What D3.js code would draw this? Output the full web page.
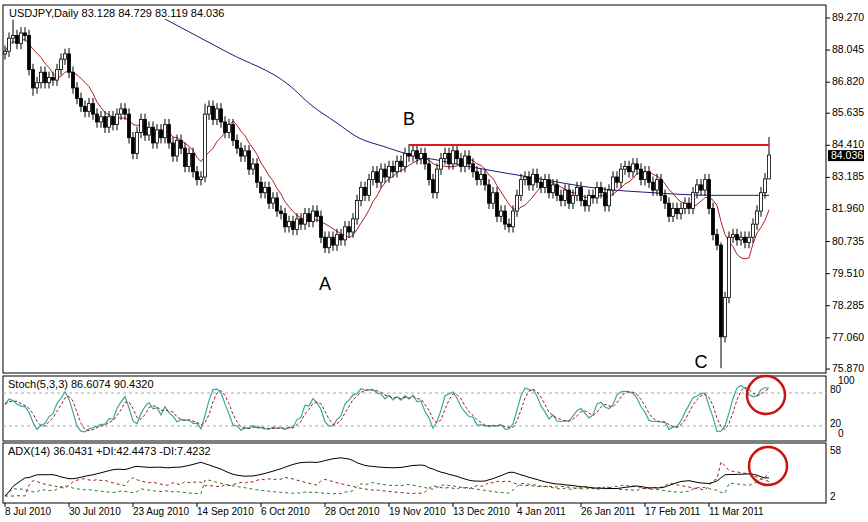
<!DOCTYPE html>
<html><head><meta charset="utf-8">
<script src="https://cdn.jsdelivr.net/npm/d3@7"></script>
<style>body{margin:0;background:#fff}text{font-family:"Liberation Sans",Arial,sans-serif}</style>
</head><body><svg id="c" width="868" height="522"></svg>
<script>
const closes=[88.0,88.5,88.6,88.3,88.7,88.6,87.3,86.6,86.8,87.2,86.8,87.0,86.9,87.3,87.7,87.9,87.2,86.6,86.2,85.9,85.7,86.0,85.6,85.3,85.5,85.1,85.5,85.2,85.6,85.8,
85.6,84.7,84.1,84.9,85.4,84.8,85.1,84.5,85.0,84.7,85.2,84.5,84.0,84.6,84.3,83.6,84.1,83.4,83.1,83.2,85.6,85.9,85.4,85.8,85.3,84.9,85.2,84.6,84.3,84.0,84.2,83.5,83.7,83.0,82.6,82.8,82.2,82.4,81.9,
81.8,81.3,81.5,81.2,81.6,81.4,81.8,81.5,81.9,81.7,80.9,80.5,80.9,80.6,81.0,80.8,81.3,81.1,81.6,82.3,82.8,82.5,83.1,83.4,83.0,83.5,83.2,83.6,83.4,83.8,83.6,84.1,84.0,84.2,83.9,84.1,83.7,83.1,82.6,
83.5,83.9,84.1,83.7,84.2,83.9,83.6,84.0,83.7,83.4,83.1,83.3,82.9,82.2,82.6,81.7,81.9,81.4,81.3,81.9,82.5,83.1,83.2,82.9,83.3,83.0,82.8,83.1,82.6,82.9,82.5,82.3,82.7,82.2,82.5,82.8,82.3,82.1,82.5,
82.4,82.8,82.6,82.1,82.7,83.2,83.0,83.5,83.6,83.4,83.7,83.5,83.1,83.4,83.0,82.7,83.1,82.5,82.2,81.7,82.0,81.8,82.0,82.2,82.0,82.6,82.9,82.7,83.1,82.0,81.0,80.6,77.1,78.6,80.9,81.0,80.8,80.9,80.7,80.9,81.4,81.9,82.6,83.128,84.036];
const firstOpen=87.9;
const defaultWick=0.22;
const highOverrides={2:89.2,15:88.1,50:86.0,101:84.45,113:84.4,179:80.7,191:84.729};
const lowOverrides={7:86.3,50:83.0,80:80.3,178:80.4,179:75.9,191:83.119};
const slowMA=[[40,89.23],[56,87.93],[71,86.71],[76.5,85.95],[83,85.26],[88,84.73],[95,84.35],[101.5,84.04],[108,83.85],[116,83.6],[131,83.2],[149,82.75],[162,82.6],[177,82.5],[191,82.5]];
const priceTicks=["89.270","88.045","86.820","85.635","84.410","83.185","81.960","80.735","79.510","78.285","77.060","75.870"];
const dateLabels=[[0,"8 Jul 2010"],[16,"30 Jul 2010"],[32,"23 Aug 2010"],[48,"14 Sep 2010"],[64,"6 Oct 2010"],[80,"28 Oct 2010"],[96,"19 Nov 2010"],[112,"13 Dec 2010"],[128,"4 Jan 2011"],[144,"26 Jan 2011"],[160,"17 Feb 2011"],[176,"11 Mar 2011"]];
const resistance={from:101,to:191,value:84.42};
const notes=[[80,"A",78.9],[101,"B",85.2],[174,"C",75.9]];

const N=closes.length;
const bars=closes.map((c,i)=>{const o=i?closes[i-1]:firstOpen;
 return {i,o,c,h:highOverrides[i]??Math.max(o,c)+defaultWick,l:lowOverrides[i]??Math.min(o,c)-defaultWick};});

const svg=d3.select("#c");
const x=d3.scaleLinear().domain([0,1]).range([5,9]);
const y=d3.scaleLinear().domain([75.87,89.27]).range([369,18]);
const L=3,R=826;
[[5,373],[376,441],[443,503]].forEach(([a,b])=>svg.append("rect").attr("x",L).attr("y",a).attr("width",R-L).attr("height",b-a).attr("fill","none").attr("stroke","#000"));
const main=svg.append("g");
main.append("path").datum(slowMA).attr("fill","none").attr("stroke","#1c1c80").attr("d",d3.line().curve(d3.curveMonotoneX).x(d=>x(d[0])).y(d=>y(d[1])));
const per=8;
const sma=bars.map((b,i)=>{const s=closes.slice(Math.max(0,i-per+1),i+1);return [i,d3.mean(s)];});
main.append("path").datum(sma).attr("fill","none").attr("stroke","#b02020").attr("d",d3.line().x(d=>x(d[0])).y(d=>y(d[1])));
const cg=main.selectAll("g.c").data(bars).join("g");
cg.append("line").attr("x1",d=>x(d.i)).attr("x2",d=>x(d.i)).attr("y1",d=>y(d.h)).attr("y2",d=>y(d.l)).attr("stroke","#000");
cg.append("rect").attr("x",d=>x(d.i)-1.5).attr("width",3).attr("y",d=>y(Math.max(d.o,d.c))).attr("height",d=>Math.max(1,Math.abs(y(d.o)-y(d.c)))).attr("fill",d=>d.c>=d.o?"#fff":"#000").attr("stroke","#000").attr("stroke-width",0.8);
main.append("line").attr("x1",x(resistance.from)).attr("x2",x(resistance.to)).attr("y1",y(resistance.value)).attr("y2",y(resistance.value)).attr("stroke","#e01818").attr("stroke-width",2);
notes.forEach(([i,t,v])=>main.append("text").attr("x",x(i)).attr("y",y(v)).attr("text-anchor","middle").attr("font-size",18).text(t));
priceTicks.forEach(t=>{const yy=y(+t);svg.append("line").attr("x1",R).attr("x2",R+4).attr("y1",yy).attr("y2",yy).attr("stroke","#000");
 svg.append("text").attr("x",832).attr("y",yy+3).attr("font-size",10.5).text(t);});
const last=closes[N-1];
svg.append("rect").attr("x",828).attr("y",y(last)-5).attr("width",36).attr("height",11).attr("fill","#000");
svg.append("text").attr("x",831).attr("y",y(last)+4).attr("font-size",10.5).attr("fill","#fff").text(last.toFixed(3));
svg.append("text").attr("x",9).attr("y",17).attr("font-size",11).text("USDJPY,Daily  83.128 84.729 83.119 84.036");

const raw=bars.map((b,i)=>{const w=bars.slice(Math.max(0,i-4),i+1);const hh=d3.max(w,d=>d.h),ll=d3.min(w,d=>d.l);return hh>ll?(b.c-ll)/(hh-ll)*100:50;});
const sm=(a,n)=>a.map((v,i)=>d3.mean(a.slice(Math.max(0,i-n+1),i+1)));
const K=sm(raw,3),D=sm(K,3);
const ys=d3.scaleLinear().domain([0,100]).range([437,382]);
[80,20].forEach(v=>svg.append("line").attr("x1",L).attr("x2",R).attr("y1",ys(v)).attr("y2",ys(v)).attr("stroke","#aaa").attr("stroke-dasharray","3,3"));
svg.append("path").datum(K).attr("fill","none").attr("stroke","#3ca6a6").attr("stroke-width",1.2).attr("d",d3.line().x((d,i)=>x(i)).y(d=>ys(d)));
svg.append("path").datum(D).attr("fill","none").attr("stroke","#a02020").attr("stroke-dasharray","3,2").attr("d",d3.line().x((d,i)=>x(i)).y(d=>ys(d)));
svg.append("text").attr("x",8).attr("y",388).attr("font-size",11).text("Stoch(5,3,3) 86.6074 90.4320");
[["100",838,384],["80",830,393],["20",830,427],["0",838,437]].forEach(([t,xx,yy])=>svg.append("text").attr("x",xx).attr("y",yy).attr("font-size",10).text(t));

const n=14;let tr=[],pdm=[],mdm=[];
bars.forEach((b,i)=>{if(!i){tr.push(b.h-b.l);pdm.push(0);mdm.push(0);return;}const p=bars[i-1];
 tr.push(Math.max(b.h-b.l,Math.abs(b.h-p.c),Math.abs(b.l-p.c)));const up=b.h-p.h,dn=p.l-b.l;
 pdm.push(up>dn&&up>0?up:0);mdm.push(dn>up&&dn>0?dn:0);});
const ema=a=>{let r=[],s=a[0];a.forEach((v,i)=>{s=i?s+(v-s)/n:v;r.push(s);});return r;};
const atr=ema(tr),pd=ema(pdm),md=ema(mdm);
const PDI=pd.map((v,i)=>100*v/atr[i]),MDI=md.map((v,i)=>100*v/atr[i]);
const DX=PDI.map((v,i)=>100*Math.abs(v-MDI[i])/Math.max(1e-6,v+MDI[i]));
const ADX=ema(DX);
const ya=d3.scaleLinear().domain([2,58]).range([496,450]).clamp(true);
const la=d3.line().x((d,i)=>x(i)).y(d=>ya(d));
svg.append("path").datum(PDI).attr("fill","none").attr("stroke","#2a7a2a").attr("stroke-dasharray","3,3").attr("d",la);
svg.append("path").datum(MDI).attr("fill","none").attr("stroke","#a02020").attr("stroke-dasharray","3,3").attr("d",la);
svg.append("path").datum(ADX).attr("fill","none").attr("stroke","#000").attr("d",la);
svg.append("text").attr("x",8).attr("y",455).attr("font-size",11).text("ADX(14) 36.0431 +DI:42.4473 -DI:7.4232");
[["58",450],["2",496]].forEach(([t,yy])=>svg.append("text").attr("x",830).attr("y",yy+4).attr("font-size",10).text(t));

[[766,395],[768,466]].forEach(([cx,cy])=>svg.append("circle").attr("cx",cx).attr("cy",cy).attr("r",19).attr("fill","none").attr("stroke","#cc1111").attr("stroke-width",2.5));
dateLabels.forEach(([i,t])=>{svg.append("line").attr("x1",x(i)).attr("x2",x(i)).attr("y1",503).attr("y2",507).attr("stroke","#000");
 svg.append("text").attr("x",x(i)).attr("y",515).attr("font-size",10).text(t);});
</script></body></html>
